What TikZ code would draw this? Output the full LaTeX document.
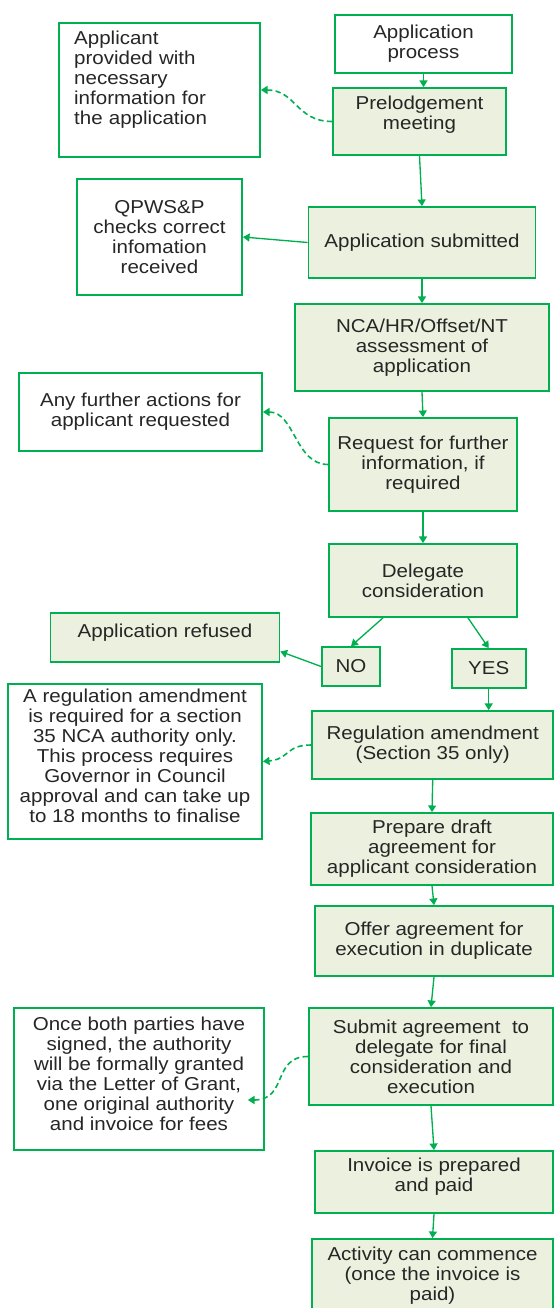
\documentclass[tikz,border=0pt]{standalone}
\usepackage{fontspec}
\setmainfont{Liberation Sans}[FakeStretch=1.1]
\usetikzlibrary{arrows.meta,calc}
\definecolor{flowgreen}{RGB}{0,176,80}
\definecolor{flowfill}{RGB}{235,241,222}
\definecolor{flowtext}{RGB}{38,38,38}

\begin{document}
\begin{tikzpicture}[x=0.75pt,y=0.75pt,yscale=-1,xscale=1,
  stepbox/.style={draw=flowgreen,line width=1.3pt,fill=flowfill,text=flowtext,align=center,inner sep=0pt,font=\fontsize{14}{15}\selectfont},
  notebox/.style={stepbox,fill=white},
  wh/.style 2 args={minimum width=#1*0.75pt,minimum height=#2*0.75pt},
  flow/.style={draw=flowgreen,line width=1pt,-{Triangle[length=5pt,width=6pt]}},
  aside/.style={flow,line width=1.2pt,dash pattern=on 4pt off 2.5pt}]
\useasboundingbox (0,0) rectangle (554,1308);

% Box: start
\draw (423.5,44) node (proc) [notebox,wh={177}{58}] {Application\\process};
% Box: prelodgement
\draw (419.5,121.5) node (prelodge) [stepbox,wh={173}{67},text depth=13.5pt] {Prelodgement\\meeting};
% Note
\draw (159.5,90) node (applicant) [notebox,wh={201}{134},align=left,text width=128pt,text depth=78pt] {Applicant\\provided with\\necessary\\information for\\the application};
% Note
\draw (159.5,237) node (qpws) [notebox,wh={165}{116}] {QPWS\&P\\checks correct\\infomation\\received};
% Box
\draw (422,242.5) node (submitted) [stepbox,wh={227}{71}] {Application submitted};
% Box
\draw (422,347.5) node (nca) [stepbox,wh={254}{87}] {NCA/HR/Offset/NT\\assessment of\\application};
% Note
\draw (140.5,412) node (further) [notebox,wh={243}{78}] {Any further actions for\\applicant requested};
% Box
\draw (423,464.5) node (request) [stepbox,wh={188}{93}] {Request for further\\information, if\\required};
% Box: decision
\draw (423,580.5) node (delegate) [stepbox,wh={188}{73}] {Delegate\\consideration};
% Box
\draw (165,637.5) node (refused) [stepbox,wh={229}{49},text depth=10.5pt] {Application refused};
% Box: answers
\draw (351,666.5) node (no) [stepbox,wh={58}{39}] {NO};
\draw (488.7,668.5) node (yes) [stepbox,wh={74}{39}] {YES};
% Note
\draw (135,761.5) node (amendnote) [notebox,wh={254}{155},text depth=9pt] {A regulation amendment\\is required for a section\\35 NCA authority only.\\This process requires\\Governor in Council\\approval and can take up\\to 18 months to finalise};
% Box
\draw (432.7,745) node (regamend) [stepbox,wh={241}{68}] {Regulation amendment\\(Section 35 only)};
% Box
\draw (432,849) node (prepare) [stepbox,wh={242}{72}] {Prepare draft\\agreement for\\applicant consideration};
% Box
\draw (434,941) node (offer) [stepbox,wh={238}{70}] {Offer agreement for\\execution in duplicate};
% Note
\draw (139,1079) node (once) [notebox,wh={250}{142},text depth=8.25pt] {Once both parties have\\signed, the authority\\will be formally granted\\via the Letter of Grant,\\one original authority\\and invoice for fees};
% Box
\draw (431,1056.5) node (submit) [stepbox,wh={244.5}{97}] {Submit agreement\ \ to\\delegate for final\\consideration and\\execution};
% Box
\draw (434,1182) node (invoice) [stepbox,wh={238}{62},text depth=10.5pt] {Invoice is prepared\\and paid};
% Box: end
\draw (432.5,1275.5) node (activity) [stepbox,wh={241}{73}] {Activity can commence\\(once the invoice is\\paid)};

% Arrows
\draw [flow] (proc.south) -- (proc.south |- prelodge.north);
\draw [aside] (prelodge.west) .. controls (296,121.5) and (296,90) .. (applicant.east);
\draw [flow] (prelodge.south) -- (submitted.north);
\draw [flow] (submitted.west) -- (qpws.east);
\draw [flow] (submitted.south) -- (nca.north);
\draw [flow] (nca.south) -- (request.north);
\draw [aside] (request.west) .. controls (295,464.5) and (295,412) .. (further.east);
\draw [flow] (request.south) -- (delegate.north);
\draw [flow] ($(delegate.south)+(-40,0)$) -- (no.north);
\draw [flow] ($(delegate.south)+(45,0)$) -- (yes.north);
\draw [flow] (no.west) -- ($(refused.east)+(0,14)$);
\draw [flow] (yes.south) -- (yes.south |- regamend.north);
\draw [aside] (regamend.west) .. controls (285,745) and (290,759) .. (amendnote.east);
\draw [flow] (regamend.south) -- (prepare.north);
\draw [flow] (prepare.south) -- (offer.north);
\draw [flow] (offer.south) -- (submit.north);
\draw [aside] (submit.west) .. controls (272,1056.5) and (288,1100) .. ($(once.east)+(-17,21)$);
\draw [flow] (submit.south) -- (invoice.north);
\draw [flow] (invoice.south) -- (activity.north);

\end{tikzpicture}
\end{document}
